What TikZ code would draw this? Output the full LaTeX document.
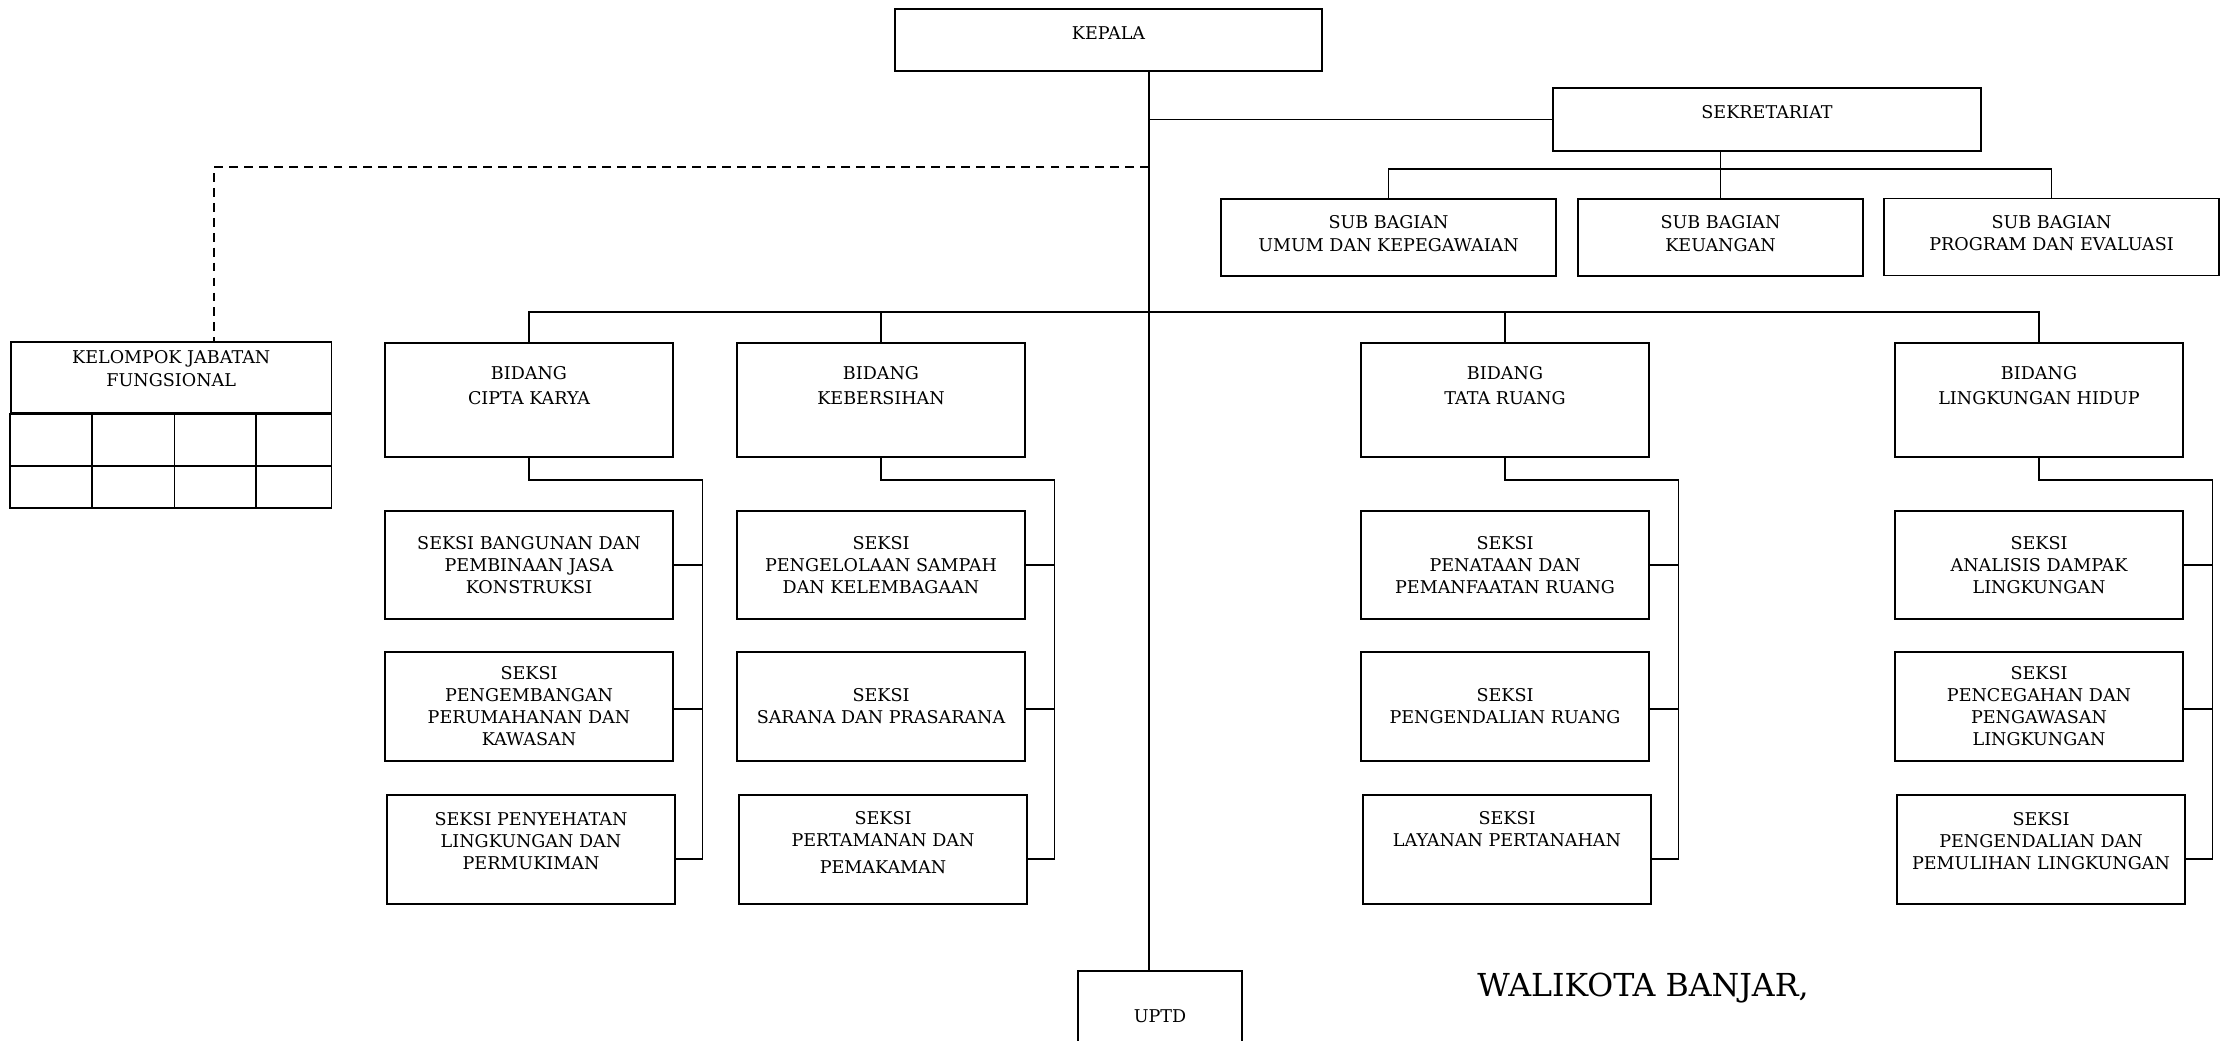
\documentclass[tikz,border=0pt]{standalone}
\usepackage{fontspec}
\setmainfont{DejaVu Serif}
\usepackage{tikz}
\tikzstyle{unit} =
  [ rectangle
  , draw
  , line width=1pt
  , align=center
  , inner sep=0pt
  , font=\fontsize{10}{12.5}\selectfont
  ]
\tikzstyle{head_unit} =
  [ unit
  , minimum width=85.5mm
  , minimum height=12.5mm
  , text depth=8.3pt
  ]
\tikzstyle{sub_bagian} =
  [ unit
  , minimum height=15.4mm
  ]
\tikzstyle{bidang} =
  [ unit
  , minimum width=57.6mm
  , minimum height=22.8mm
  ]
\tikzstyle{seksi} =
  [ unit
  , minimum width=57.6mm
  , minimum height=21.7mm
  ]
\tikzstyle{staff_link} =
  [ dash pattern=on 5pt off 3.5pt
  , line width=0.8pt
  ]

\begin{document}
\begin{tikzpicture}[x=0.2mm, y=-0.2mm, line width=0.95pt]
    \useasboundingbox (0,0) rectangle (2225,1040);
    \clip (0,0) rectangle (2225,1040);

    \node[head_unit] (kepala) at (1108.5, 40) {KEPALA};
    \coordinate (spine) at (1149, 71);
    \node[unit, minimum width=32.8mm, minimum height=25.8mm, text depth=22.2pt] (uptd) at (1160, 1035.5) {UPTD};
    \draw (kepala.south -| spine) -- (uptd.north -| spine);

    % Sekretariat and its sub bagian
    \node[head_unit] (sekretariat) at (1767, 119.5) {SEKRETARIAT};
    \draw (spine |- sekretariat.west) -- (sekretariat.west);

    \node[sub_bagian, minimum width=67mm] (umum)      at (1388.5, 237.5) {SUB BAGIAN\\[0.5pt]UMUM DAN KEPEGAWAIAN\\[-7.9pt]};
    \node[sub_bagian, minimum width=57mm] (keuangan)  at (1720.5, 237.5) {SUB BAGIAN\\[0.5pt]KEUANGAN\\[-7.9pt]};
    \node[sub_bagian, minimum width=67mm] (program)   at (2051.5, 237)   {SUB BAGIAN\\[0.5pt]PROGRAM DAN EVALUASI\\[-7.9pt]};
    \coordinate (sub_bar) at (1720.5, 169);
    \draw (sekretariat.south -| keuangan.north) -- (keuangan.north);
    \draw (umum.north) |- (sub_bar) -| (program.north);

    % Kelompok jabatan fungsional
    \node[unit, minimum width=64.1mm, minimum height=14.2mm] (kelompok) at (171.25, 377.5) {KELOMPOK JABATAN\\[0.5pt]FUNGSIONAL\\[-2.3pt]};
    \coordinate (kelompok_base) at (331.5, 508);
    \draw[line width=1pt] (kelompok.south west) rectangle (kelompok_base);
    \draw[line width=1pt] (kelompok.west |- 0,466) -- (kelompok.east |- 0,466);
    \draw (92,413)    -- (92,508);
    \draw (174.5,413) -- (174.5,508);
    \draw (256,413)   -- (256,508);

    \coordinate (fungsional_corner) at (214, 167);
    \draw[staff_link] (spine |- fungsional_corner) -- (fungsional_corner) -- (fungsional_corner |- kelompok.north);

    % Bidang
    \node[bidang] (cipta_karya)      at (529, 400)  {BIDANG\\[2.1pt]CIPTA KARYA\\[4pt]};
    \node[bidang] (kebersihan)       at (881, 400)  {BIDANG\\[2.1pt]KEBERSIHAN\\[4pt]};
    \node[bidang] (tata_ruang)       at (1505, 400) {BIDANG\\[2.1pt]TATA RUANG\\[4pt]};
    \node[bidang] (lingkungan_hidup) at (2039, 400) {BIDANG\\[2.1pt]LINGKUNGAN HIDUP\\[4pt]};
    \coordinate (bidang_bar) at (1149, 312);
    \draw (cipta_karya.north) |- (bidang_bar) -| (lingkungan_hidup.north);
    \draw (kebersihan.north) -- (kebersihan.north |- bidang_bar);
    \draw (tata_ruang.north) -- (tata_ruang.north |- bidang_bar);

    % Seksi of bidang cipta karya
    \node[seksi] (seksi_bangunan)   at (529, 565)   {SEKSI BANGUNAN DAN\\PEMBINAAN JASA\\KONSTRUKSI};
    \node[seksi] (seksi_perumahan)  at (529, 706.5) {SEKSI\\PENGEMBANGAN\\PERUMAHANAN DAN\\KAWASAN};
    \node[seksi] (seksi_penyehatan) at (531, 849.5) {SEKSI PENYEHATAN\\LINGKUNGAN DAN\\PERMUKIMAN\\[-2.3pt]};
    \coordinate (cipta_rail) at (702.5, 480);
    \draw (cipta_karya.south) |- (cipta_rail) |- ([yshift=-1.9mm]seksi_penyehatan.east);
    \draw (seksi_bangunan.east)  -- (seksi_bangunan.east -| cipta_rail);
    \draw ([yshift=-0.5mm]seksi_perumahan.east) -- ([yshift=-0.5mm]seksi_perumahan.east -| cipta_rail);

    % Seksi of bidang kebersihan
    \node[seksi] (seksi_sampah)     at (881, 565)   {SEKSI\\PENGELOLAAN SAMPAH\\DAN KELEMBAGAAN};
    \node[seksi] (seksi_sarana)     at (881, 706.5) {SEKSI\\SARANA DAN PRASARANA};
    \node[seksi] (seksi_pertamanan) at (883, 849.5) {SEKSI\\PERTAMANAN DAN\\[2.8pt]PEMAKAMAN\\[-4.5pt]};
    \coordinate (kebersihan_rail) at (1054.5, 480);
    \draw (kebersihan.south) |- (kebersihan_rail) |- ([yshift=-1.9mm]seksi_pertamanan.east);
    \draw (seksi_sampah.east) -- (seksi_sampah.east -| kebersihan_rail);
    \draw ([yshift=-0.5mm]seksi_sarana.east) -- ([yshift=-0.5mm]seksi_sarana.east -| kebersihan_rail);

    % Seksi of bidang tata ruang
    \node[seksi] (seksi_penataan)    at (1505, 565)   {SEKSI\\PENATAAN DAN\\PEMANFAATAN RUANG};
    \node[seksi] (seksi_pengendalian) at (1505, 706.5) {SEKSI\\PENGENDALIAN RUANG};
    \node[seksi] (seksi_pertanahan)  at (1507, 849.5) {SEKSI\\LAYANAN PERTANAHAN\\[10.9pt]};
    \coordinate (tata_rail) at (1678.5, 480);
    \draw (tata_ruang.south) |- (tata_rail) |- ([yshift=-1.9mm]seksi_pertanahan.east);
    \draw (seksi_penataan.east)     -- (seksi_penataan.east -| tata_rail);
    \draw ([yshift=-0.5mm]seksi_pengendalian.east) -- ([yshift=-0.5mm]seksi_pengendalian.east -| tata_rail);

    % Seksi of bidang lingkungan hidup
    \node[seksi] (seksi_amdal)      at (2039, 565)   {SEKSI\\ANALISIS DAMPAK\\LINGKUNGAN};
    \node[seksi] (seksi_pengawasan) at (2039, 706.5) {SEKSI\\PENCEGAHAN DAN\\PENGAWASAN\\LINGKUNGAN};
    \node[seksi] (seksi_pemulihan)  at (2041, 849.5) {SEKSI\\PENGENDALIAN DAN\\PEMULIHAN LINGKUNGAN\\[-2.3pt]};
    \coordinate (lingkungan_rail) at (2212.5, 480);
    \draw (lingkungan_hidup.south) |- (lingkungan_rail) |- ([yshift=-1.9mm]seksi_pemulihan.east);
    \draw (seksi_amdal.east)      -- (seksi_amdal.east -| lingkungan_rail);
    \draw ([yshift=-0.5mm]seksi_pengawasan.east) -- ([yshift=-0.5mm]seksi_pengawasan.east -| lingkungan_rail);

    \node[font=\fontsize{18}{21}\selectfont] (walikota) at (1643, 988) {WALIKOTA BANJAR,};

  \end{tikzpicture}
\end{document}
